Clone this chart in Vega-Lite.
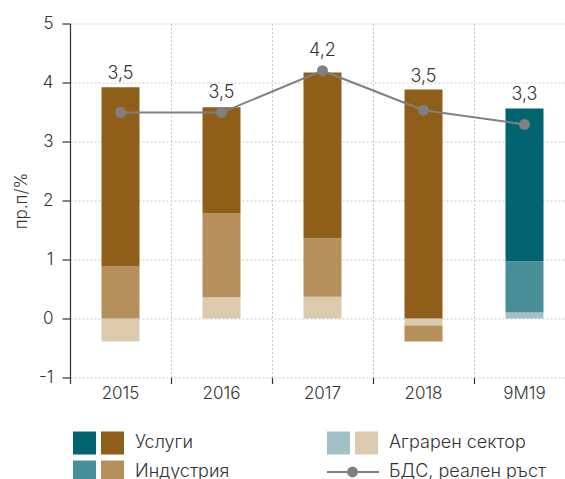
{
  "$schema": "https://vega.github.io/schema/vega-lite/v6.json",
  "padding": {"left": 12, "top": 14.5, "right": 0, "bottom": 0},
  "config": {
    "font": "Inter",
    "view": {"stroke": null},
    "text": {"font": "Inter"}
  },
  "datasets": {
    "bars": [
      {"period": "2015", "sector": "Аграрен сектор", "value": -0.39},
      {"period": "2015", "sector": "Индустрия", "value": 0.88},
      {"period": "2015", "sector": "Услуги", "value": 3.04},
      {"period": "2016", "sector": "Аграрен сектор", "value": 0.36},
      {"period": "2016", "sector": "Индустрия", "value": 1.42},
      {"period": "2016", "sector": "Услуги", "value": 1.80},
      {"period": "2017", "sector": "Аграрен сектор", "value": 0.37},
      {"period": "2017", "sector": "Индустрия", "value": 0.99},
      {"period": "2017", "sector": "Услуги", "value": 2.81},
      {"period": "2018", "sector": "Аграрен сектор", "value": -0.12},
      {"period": "2018", "sector": "Индустрия", "value": -0.27},
      {"period": "2018", "sector": "Услуги", "value": 3.88},
      {"period": "9M19", "sector": "Аграрен сектор", "value": 0.10},
      {"period": "9M19", "sector": "Индустрия", "value": 0.87},
      {"period": "9M19", "sector": "Услуги", "value": 2.59}
    ],
    "gdp": [
      {"period": "2015", "gdp": 3.49, "label": "3,5"},
      {"period": "2016", "gdp": 3.49, "label": "3,5"},
      {"period": "2017", "gdp": 4.2, "label": "4,2"},
      {"period": "2018", "gdp": 3.53, "label": "3,5"},
      {"period": "9M19", "gdp": 3.29, "label": "3,3"}
    ],
    "legend": [
      {"item": "Услуги", "col": 0, "row": 0, "kind": "bar"},
      {"item": "Индустрия", "col": 0, "row": 1, "kind": "bar"},
      {"item": "Аграрен сектор", "col": 1, "row": 0, "kind": "bar"},
      {"item": "БДС, реален ръст", "col": 1, "row": 1, "kind": "line"}
    ]
  },
  "bounds": "flush",
  "spacing": 51,
  "vconcat": [
    {
      "width": 495,
      "height": 354,
      "layer": [
        {
          "data": {"name": "bars"},
          "transform": [
            {"calculate": "indexof(['Аграрен сектор','Индустрия','Услуги'], datum.sector)", "as": "ord"},
            {"calculate": "datum.sector + (datum.period == '9M19' ? '|t' : '|b')", "as": "key"}
          ],
          "mark": {"type": "bar", "size": 38},
          "encoding": {
            "x": {
              "field": "period", "type": "nominal",
              "sort": ["2015", "2016", "2017", "2018", "9M19"],
              "scale": {"range": [0, 505], "paddingInner": 0, "paddingOuter": 0},
              "axis": {
                "title": null, "labelAngle": 0, "domain": false,
                "bandPosition": 0,
                "labelFontSize": 17, "labelFontWeight": 300, "labelColor": "#333333", "labelPadding": 2,
                "tickSize": 6, "tickColor": "#333333", "tickWidth": 1.2,
                "grid": true, "gridDash": [2, 2], "gridColor": "#c8c8c8", "gridWidth": 1
              }
            },
            "y": {
              "field": "value", "type": "quantitative", "stack": "zero",
              "scale": {"domain": [-1, 5], "nice": false},
              "axis": {
                "title": "пр.п/%", "titleFontSize": 17, "titleFontWeight": 300, "titleColor": "#333333", "titlePadding": 8,
                "values": [-1, 0, 1, 2, 3, 4, 5],
                "labelExpr": "'' + datum.value",
                "labelFontSize": 17, "labelFontWeight": 300, "labelColor": "#333333", "labelPadding": 9,
                "tickSize": 8, "tickColor": "#333333", "tickWidth": 1.2,
                "domainColor": "#333333", "domainWidth": 1.2,
                "grid": true, "gridDash": [2, 2], "gridColor": "#c8c8c8", "gridWidth": 1
              }
            },
            "color": {
              "field": "key", "type": "nominal", "legend": null,
              "scale": {
                "domain": ["Аграрен сектор|b", "Индустрия|b", "Услуги|b", "Аграрен сектор|t", "Индустрия|t", "Услуги|t"],
                "range": ["#DCCAAF", "#B5905D", "#8F5F1A", "#A3C0C7", "#4A8E98", "#02646E"]
              }
            },
            "order": {"field": "ord", "type": "quantitative"}
          }
        },
        {
          "mark": {"type": "rule", "color": "#333333", "strokeWidth": 1.5},
          "encoding": {"y": {"datum": 0}}
        },
        {
          "mark": {"type": "rule", "color": "#333333", "strokeWidth": 1.2},
          "encoding": {"y": {"datum": -1}}
        },
        {
          "data": {"name": "gdp"},
          "mark": {"type": "line", "color": "#808080", "strokeWidth": 2},
          "encoding": {
            "x": {"field": "period", "type": "nominal", "sort": ["2015", "2016", "2017", "2018", "9M19"]},
            "y": {"field": "gdp", "type": "quantitative"}
          }
        },
        {
          "data": {"name": "gdp"},
          "mark": {"type": "point", "filled": true, "opacity": 1, "color": "#808080", "size": 120},
          "encoding": {
            "x": {"field": "period", "type": "nominal", "sort": ["2015", "2016", "2017", "2018", "9M19"]},
            "y": {"field": "gdp", "type": "quantitative"}
          }
        },
        {
          "data": {"name": "bars"},
          "transform": [
            {"filter": "datum.value > 0"},
            {"aggregate": [{"op": "sum", "field": "value", "as": "top"}], "groupby": ["period"]},
            {"lookup": "period", "from": {"data": {"name": "gdp"}, "key": "period", "fields": ["gdp", "label"]}},
            {"calculate": "max(datum.top, datum.gdp + 0.12)", "as": "pos"}
          ],
          "mark": {"type": "text", "baseline": "bottom", "dy": -4, "fontSize": 18, "fontWeight": 300, "color": "#333333"},
          "encoding": {
            "x": {"field": "period", "type": "nominal", "sort": ["2015", "2016", "2017", "2018", "9M19"]},
            "y": {"field": "pos", "type": "quantitative"},
            "text": {"field": "label"}
          }
        }
      ]
    },
    {
      "width": 254,
      "height": 58,
      "data": {"name": "legend"},
      "encoding": {
        "x": {"field": "col", "type": "ordinal", "scale": {"type": "point", "padding": 0}, "axis": null},
        "y": {"field": "row", "type": "ordinal", "scale": {"type": "point", "padding": 0.5}, "axis": null}
      },
      "layer": [
        {
          "transform": [{"filter": "datum.kind == 'bar'"}, {"calculate": "datum.item + '|t'", "as": "key"}],
          "mark": {"type": "point", "shape": "square", "filled": true, "opacity": 1, "size": 529, "xOffset": 14.5},
          "encoding": {"color": {"field": "key", "type": "nominal", "legend": null}}
        },
        {
          "transform": [{"filter": "datum.kind == 'bar'"}, {"calculate": "datum.item + '|b'", "as": "key"}],
          "mark": {"type": "point", "shape": "square", "filled": true, "opacity": 1, "size": 529, "xOffset": 42.5},
          "encoding": {"color": {"field": "key", "type": "nominal", "legend": null}}
        },
        {
          "transform": [{"filter": "datum.kind == 'line'"}],
          "mark": {"type": "rule", "color": "#808080", "strokeWidth": 2, "xOffset": 3, "x2Offset": 55},
          "encoding": {"x2": {"field": "col"}}
        },
        {
          "transform": [{"filter": "datum.kind == 'line'"}],
          "mark": {"type": "point", "filled": true, "opacity": 1, "color": "#808080", "size": 120, "xOffset": 28.5}
        },
        {
          "mark": {"type": "text", "align": "left", "baseline": "middle", "fontSize": 18, "fontWeight": 300, "color": "#333333", "xOffset": 65},
          "encoding": {"text": {"field": "item"}}
        }
      ]
    }
  ]
}
